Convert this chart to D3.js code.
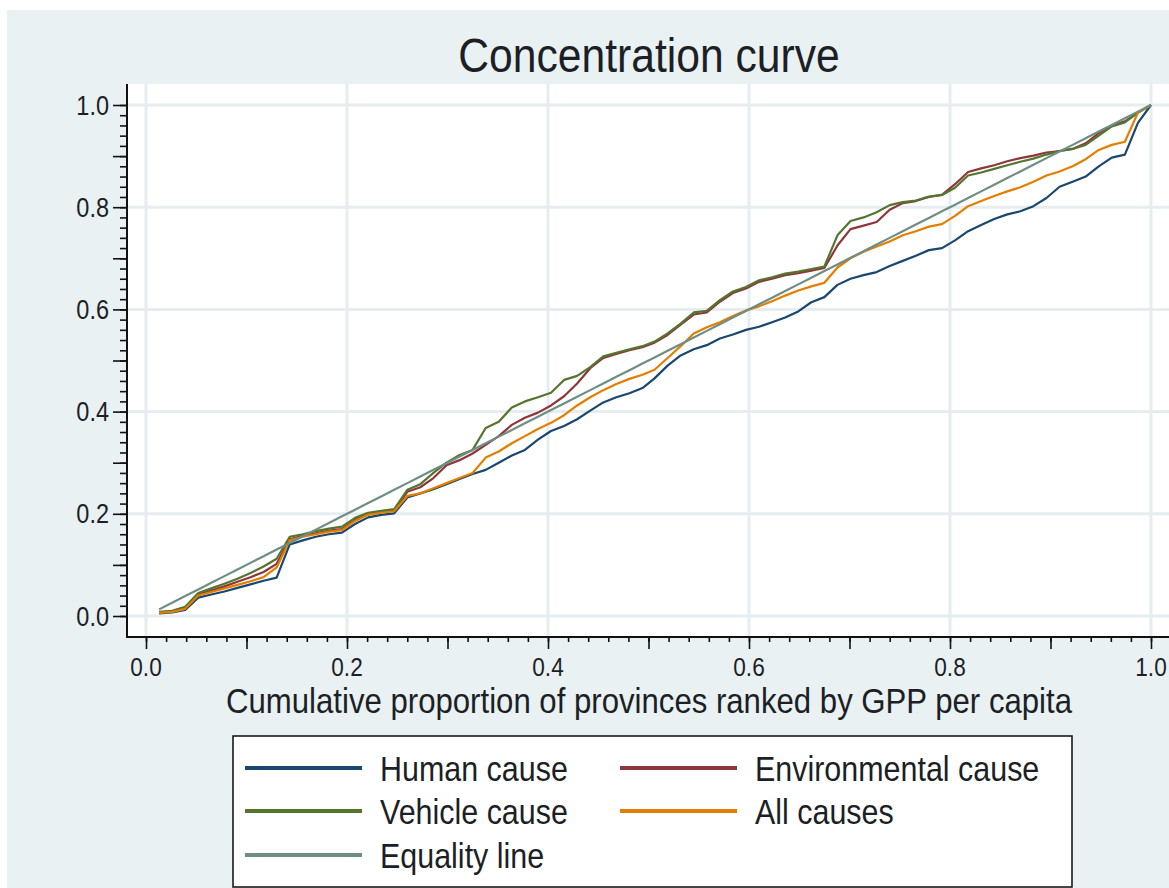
<!DOCTYPE html>
<meta charset="utf-8">
<title>Concentration curve</title>
<style>
  body { margin: 0; background: #fff; }
  text { font-family: "Liberation Sans", Arial, sans-serif; fill: #1c1f26; }
</style>
<svg width="1169" height="888"></svg>
<script src="https://d3js.org/d3.v7.min.js"></script>
<script>

// cumulative proportion of the 77 provinces, ranked by GPP per capita
var cumProp = [0.013,0.026,0.039,0.052,0.065,0.078,0.091,0.104,0.117,0.130,
  0.143,0.156,0.169,0.182,0.195,0.208,0.221,0.234,0.247,0.260,
  0.273,0.286,0.299,0.312,0.325,0.338,0.351,0.364,0.377,0.390,
  0.403,0.416,0.429,0.442,0.455,0.468,0.481,0.494,0.506,0.519,
  0.532,0.545,0.558,0.571,0.584,0.597,0.610,0.623,0.636,0.649,
  0.662,0.675,0.688,0.701,0.714,0.727,0.740,0.753,0.766,0.779,
  0.792,0.805,0.818,0.831,0.844,0.857,0.870,0.883,0.896,0.909,
  0.922,0.935,0.948,0.961,0.974,0.987,1.000];

var humanCause = [0.005,0.007,0.012,0.036,0.042,0.048,0.055,0.062,0.069,0.075,
  0.140,0.148,0.155,0.160,0.163,0.180,0.193,0.198,0.201,0.232,
  0.240,0.248,0.258,0.268,0.278,0.286,0.300,0.314,0.325,0.345,
  0.362,0.372,0.385,0.402,0.418,0.428,0.436,0.446,0.465,0.490,
  0.510,0.522,0.530,0.543,0.551,0.560,0.566,0.575,0.584,0.596,
  0.614,0.624,0.648,0.660,0.667,0.673,0.685,0.695,0.705,0.716,
  0.720,0.735,0.753,0.765,0.777,0.786,0.792,0.802,0.818,0.840,
  0.850,0.860,0.880,0.897,0.903,0.965,1.000];

var envCause = [0.007,0.009,0.016,0.042,0.050,0.058,0.067,0.076,0.086,0.102,
  0.150,0.157,0.162,0.167,0.170,0.188,0.200,0.204,0.207,0.243,
  0.252,0.270,0.295,0.305,0.318,0.335,0.352,0.374,0.388,0.398,
  0.412,0.430,0.455,0.485,0.505,0.513,0.520,0.526,0.535,0.550,
  0.570,0.590,0.594,0.615,0.632,0.641,0.654,0.660,0.667,0.671,
  0.676,0.681,0.725,0.757,0.764,0.771,0.795,0.808,0.812,0.820,
  0.824,0.845,0.869,0.876,0.882,0.890,0.896,0.901,0.907,0.910,
  0.914,0.925,0.945,0.960,0.968,0.985,1.000];

var vehicleCause = [0.008,0.010,0.018,0.045,0.054,0.063,0.073,0.084,0.097,0.112,
  0.155,0.160,0.166,0.171,0.175,0.192,0.202,0.206,0.209,0.247,
  0.258,0.280,0.300,0.315,0.325,0.368,0.380,0.408,0.420,0.428,
  0.437,0.462,0.470,0.487,0.508,0.515,0.522,0.528,0.537,0.553,
  0.572,0.594,0.597,0.618,0.635,0.644,0.657,0.663,0.670,0.674,
  0.679,0.684,0.745,0.773,0.780,0.790,0.804,0.810,0.813,0.821,
  0.824,0.838,0.862,0.868,0.875,0.882,0.889,0.895,0.903,0.910,
  0.914,0.922,0.940,0.958,0.966,0.985,1.000];

var allCauses = [0.006,0.008,0.014,0.040,0.047,0.054,0.061,0.068,0.076,0.095,
  0.148,0.155,0.160,0.165,0.168,0.186,0.198,0.202,0.205,0.235,
  0.240,0.250,0.260,0.270,0.280,0.310,0.322,0.338,0.352,0.366,
  0.378,0.393,0.412,0.428,0.442,0.454,0.464,0.472,0.482,0.505,
  0.528,0.553,0.565,0.575,0.587,0.598,0.606,0.616,0.627,0.637,
  0.645,0.652,0.682,0.700,0.713,0.723,0.733,0.745,0.753,0.762,
  0.767,0.783,0.802,0.812,0.822,0.831,0.839,0.850,0.862,0.870,
  0.880,0.894,0.912,0.922,0.928,0.985,1.000];

var majorTicks = [0, 0.2, 0.4, 0.6, 0.8, 1.0];
var tickLabels = ["0.0", "0.2", "0.4", "0.6", "0.8", "1.0"];
var midTicks = [0.1, 0.3, 0.5, 0.7, 0.9];

var names = ["Human cause", "Environmental cause", "Vehicle cause", "All causes", "Equality line"];
var colors = ["#1a476f", "#90353b", "#55752f", "#e37e00", "#6e8e84"];
var series = [humanCause, envCause, vehicleCause, allCauses, cumProp];

var svg = d3.select("svg"),
    width = 1169,
    height = 888;

// plot region (Stata style, axes sit a bit outside 0..1)
var plotLeft = 127, plotTop = 84, plotBottom = 637;

var x = d3.scaleLinear().domain([0, 1]).range([146, 1151]);
var y = d3.scaleLinear().domain([0, 1]).range([616, 105]);

function label(g, px, py, str, size, anchor, sx) {
  g.append("text")
    .attr("transform", "translate(" + px + "," + py + ") scale(" + (sx || 0.87) + ",1)")
    .attr("text-anchor", anchor)
    .style("font-size", size + "px")
    .text(str);
}

// backgrounds
svg.append("rect").attr("width", width).attr("height", height).attr("fill", "#fff");
svg.append("rect").attr("x", 7).attr("y", 10)
  .attr("width", width - 7).attr("height", height - 10).attr("fill", "#eaf1f3");
svg.append("rect").attr("x", plotLeft).attr("y", plotTop)
  .attr("width", width - plotLeft).attr("height", plotBottom - plotTop).attr("fill", "#fff");

// grid
var grid = svg.append("g").attr("stroke", "#e6edf0").attr("stroke-width", 3);
grid.selectAll(".gx").data(majorTicks).enter().append("line")
  .attr("x1", function(d) { return x(d); }).attr("x2", function(d) { return x(d); })
  .attr("y1", plotTop).attr("y2", plotBottom);
grid.selectAll(".gy").data(majorTicks).enter().append("line")
  .attr("y1", function(d) { return y(d); }).attr("y2", function(d) { return y(d); })
  .attr("x1", plotLeft).attr("x2", width);

// curves
svg.append("clipPath").attr("id", "clip")
  .append("rect").attr("x", plotLeft).attr("y", plotTop)
  .attr("width", width - plotLeft).attr("height", plotBottom - plotTop);

var line = d3.line()
  .x(function(d, i) { return x(cumProp[i]); })
  .y(function(d) { return y(d); });

svg.append("g").attr("clip-path", "url(#clip)")
  .selectAll("path")
  .data(series)
  .enter().append("path")
    .attr("d", line)
    .attr("fill", "none")
    .attr("stroke", function(d, i) { return colors[i]; })
    .attr("stroke-width", 2.2)
    .attr("stroke-linejoin", "round");

// minor ticks every 0.02
var minorTicks = d3.range(0, 51).map(function(k) { return k / 50; });

var yAx = svg.append("g").attr("transform", "translate(" + plotLeft + ",0)");
yAx.append("g").call(d3.axisLeft(y).tickValues(minorTicks).tickSize(7).tickFormat(""));
yAx.append("g").call(d3.axisLeft(y).tickValues(majorTicks.concat(midTicks)).tickSize(14).tickFormat(""));
yAx.selectAll(".domain").remove();
yAx.selectAll("text").remove();
yAx.selectAll("line").attr("stroke", "#111").attr("stroke-width", 1.6);
yAx.append("line").attr("y1", plotTop).attr("y2", plotBottom + 1)
  .attr("stroke", "#111").attr("stroke-width", 2);

var xAx = svg.append("g").attr("transform", "translate(0," + plotBottom + ")");
xAx.append("g").call(d3.axisBottom(x).tickValues(minorTicks).tickSize(5).tickFormat(""));
xAx.append("g").call(d3.axisBottom(x).tickValues(majorTicks.concat(midTicks)).tickSize(12).tickFormat(""));
xAx.selectAll(".domain").remove();
xAx.selectAll("text").remove();
xAx.selectAll("line").attr("stroke", "#111").attr("stroke-width", 1.6);
xAx.append("line").attr("x1", plotLeft - 1).attr("x2", width)
  .attr("stroke", "#111").attr("stroke-width", 2);

// tick labels
var txt = svg.append("g");
majorTicks.forEach(function(v, i) {
  label(txt, 109, y(v) + 9.5, tickLabels[i], 27, "end");
  label(txt, x(v), 676, tickLabels[i], 26, "middle");
});

// titles
label(txt, 649, 72, "Concentration curve", 49, "middle");
label(txt, 649, 713, "Cumulative proportion of provinces ranked by GPP per capita", 35, "middle", 0.89);

// legend
var lg = svg.append("g");
lg.append("rect").attr("x", 233).attr("y", 736).attr("width", 839).attr("height", 151)
  .attr("fill", "#fff").attr("stroke", "#1a1a1a").attr("stroke-width", 1.6);

var legCols = [245, 620], legRows = [768, 811, 855];
names.forEach(function(nm, i) {
  var cx = legCols[i % 2], cy = legRows[Math.floor(i / 2)];
  lg.append("line").attr("x1", cx).attr("x2", cx + 117)
    .attr("y1", cy).attr("y2", cy)
    .attr("stroke", colors[i]).attr("stroke-width", 4);
  label(lg, cx + 135, cy + 12.5, nm, 35, "start");
});

</script>
